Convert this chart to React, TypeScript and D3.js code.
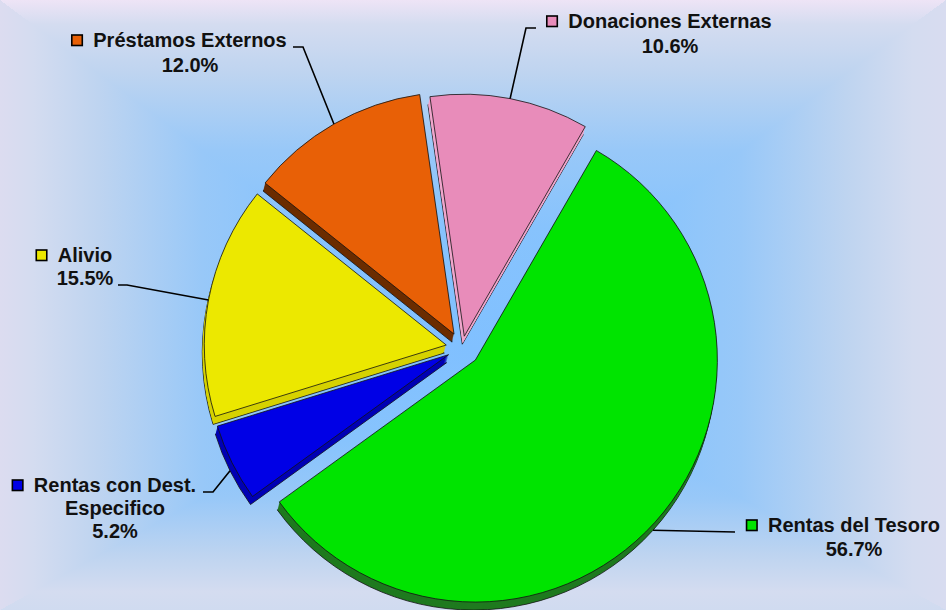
import React, { useEffect, useRef } from 'react';
import * as d3 from 'd3';

// data, in drawing order (clockwise from the first slice)
const categories = ['Rentas del Tesoro', 'Rentas con Dest. Especifico', 'Alivio', 'Préstamos Externos', 'Donaciones Externas'];
const shares = [56.7, 5.2, 15.5, 12.0, 10.6];
const labelLines = [
  ['Rentas del Tesoro', '56.7%'],
  ['Rentas con Dest.', 'Especifico', '5.2%'],
  ['Alivio', '15.5%'],
  ['Préstamos Externos', '12.0%'],
  ['Donaciones Externas', '10.6%'],
];

// styles
const topColors = ['#00e400', '#0000e6', '#ece800', '#e86006', '#e88cba'];
const sideColors = ['#1f7a1f', '#0000b4', '#d6d200', '#6b2c00', '#f0a6cc'];
const explode = [18, 15, 16, 16, 12];

const W = 946;
const H = 610;
const cx = 462;
const cy = 348;
const radius = 242;
const depth: [number, number] = [-2, 8];

// background: rectangular gradient from a centre point out to each edge
const bgCentre: [number, number] = [470, 350];
const bgStops: [number, string][] = [[0, '#80c0ff'], [0.35, '#87c3fd'], [0.57, '#98c8f8'], [0.79, '#bed4f0'], [0.93, '#d4dcf0']];
const bgEdges = { top: '#eee4f6', left: '#dcdcf0', right: '#d8dcf0', bottom: '#d0dbf0' };

// label layout: text centre x, first baseline, line height, leader knee + end
const labelLayout = [
  { x: 854, y: 532, lh: 23.5, knee: null as null | [number, number], end: [735, 532] },
  { x: 115, y: 492, lh: 23, knee: [213, 492], end: [203, 492] },
  { x: 85, y: 262, lh: 23, knee: [127, 285], end: [118, 285] },
  { x: 190, y: 47, lh: 24.5, knee: [303, 47], end: [293, 47] },
  { x: 670, y: 28, lh: 25, knee: [526, 28], end: [536, 28] },
];

const App: React.FC = () => {
  const ref = useRef<SVGSVGElement>(null);

  useEffect(() => {
    if (!ref.current) return;
    const svg = d3.select(ref.current);
    svg.selectAll('*').remove();

    // background
    const defs = svg.append('defs');
    const [bx, by] = bgCentre;
    const sidesBg = [
      { id: 'bgTop', end: bgEdges.top, x2: bx, y2: 0, pts: [[bx, by], [0, 0], [W, 0]] },
      { id: 'bgBottom', end: bgEdges.bottom, x2: bx, y2: H, pts: [[bx, by], [W, H], [0, H]] },
      { id: 'bgLeft', end: bgEdges.left, x2: 0, y2: by, pts: [[bx, by], [0, H], [0, 0]] },
      { id: 'bgRight', end: bgEdges.right, x2: W, y2: by, pts: [[bx, by], [W, 0], [W, H]] },
    ];
    svg.append('rect').attr('width', W).attr('height', H).attr('fill', '#c4d6f0');
    sidesBg.forEach(s => {
      const g = defs.append('linearGradient')
        .attr('id', s.id)
        .attr('gradientUnits', 'userSpaceOnUse')
        .attr('x1', bx).attr('y1', by)
        .attr('x2', s.x2).attr('y2', s.y2);
      bgStops.forEach(([o, c]) => g.append('stop').attr('offset', o).attr('stop-color', c));
      g.append('stop').attr('offset', 1).attr('stop-color', s.end);
      svg.append('path')
        .attr('d', 'M' + s.pts.map(p => p.join(',')).join('L') + 'Z')
        .attr('fill', `url(#${s.id})`)
        .attr('shape-rendering', 'crispEdges');
    });

    const data = categories.map((c, i) => ({ name: c, value: shares[i], i }));
    const pie = d3.pie<typeof data[0]>()
      .sort(null)
      .startAngle((30 * Math.PI) / 180)
      .endAngle((30 * Math.PI) / 180 + 2 * Math.PI)
      .value(d => d.value);
    const arcs = pie(data);

    const arc = d3.arc<d3.PieArcDatum<typeof data[0]>>()
      .innerRadius(0)
      .outerRadius(radius);

    const offsetOf = (d: d3.PieArcDatum<typeof data[0]>) => {
      const mid = (d.startAngle + d.endAngle) / 2;
      const e = explode[d.data.i];
      return [cx + e * Math.sin(mid), cy - e * Math.cos(mid)];
    };

    // sides (extrusion)
    const steps = 8;
    const sides = svg.append('g');
    arcs.forEach(d => {
      const [ox, oy] = offsetOf(d);
      for (let k = steps; k >= 1; k--) {
        sides.append('path')
          .attr('d', arc(d) as string)
          .attr('transform', `translate(${ox + (depth[0] * k) / steps},${oy + (depth[1] * k) / steps})`)
          .attr('fill', sideColors[d.data.i])
          .attr('stroke', k === steps ? '#111' : 'none')
          .attr('stroke-width', 0.8)
          .attr('stroke-linejoin', 'round');
      }
    });

    // tops
    svg.append('g')
      .selectAll('path')
      .data(arcs)
      .enter().append('path')
        .attr('transform', d => { const [ox, oy] = offsetOf(d); return `translate(${ox},${oy})`; })
        .attr('d', arc)
        .attr('fill', d => topColors[d.data.i])
        .attr('stroke', '#111')
        .attr('stroke-width', 0.8)
        .attr('stroke-linejoin', 'round');

    // leader lines
    const leaders = svg.append('g').attr('fill', 'none').attr('stroke', '#000').attr('stroke-width', 1.6);
    arcs.forEach(d => {
      const [ox, oy] = offsetOf(d);
      const mid = (d.startAngle + d.endAngle) / 2;
      let px = ox + radius * Math.sin(mid);
      let py = oy - radius * Math.cos(mid);
      if (-Math.cos(mid) > 0) { px += depth[0]; py += depth[1]; }
      const L = labelLayout[d.data.i];
      const pts: [number, number][] = [[px, py]];
      if (L.knee) pts.push(L.knee as [number, number]);
      pts.push(L.end as [number, number]);
      leaders.append('path').attr('d', d3.line()(pts) as string);
    });

    // labels
    const labels = svg.append('g')
      .attr('font-family', '"Liberation Sans", Arial, sans-serif')
      .attr('font-weight', 'bold')
      .attr('font-size', 20)
      .attr('fill', '#111');
    arcs.forEach(d => {
      const L = labelLayout[d.data.i];
      const lines = labelLines[d.data.i];
      let firstWidth = 0;
      lines.forEach((t, j) => {
        const tx = labels.append('text')
          .attr('x', L.x)
          .attr('y', L.y + j * L.lh)
          .attr('text-anchor', 'middle')
          .text(t);
        if (j === 0) firstWidth = (tx.node() as SVGTextElement).getComputedTextLength();
      });
      const left = L.x - firstWidth / 2;
      labels.append('rect')
        .attr('x', left - 21.5)
        .attr('y', L.y - 12)
        .attr('width', 10.5)
        .attr('height', 10.5)
        .attr('fill', topColors[d.data.i])
        .attr('stroke', '#000')
        .attr('stroke-width', 1.6);
    });
  }, []);

  return (
    <div style={{ position: 'absolute', left: 0, top: 0 }}>
      <svg ref={ref} width={W} height={H} style={{ display: 'block' }} />
    </div>
  );
};

export default App;
